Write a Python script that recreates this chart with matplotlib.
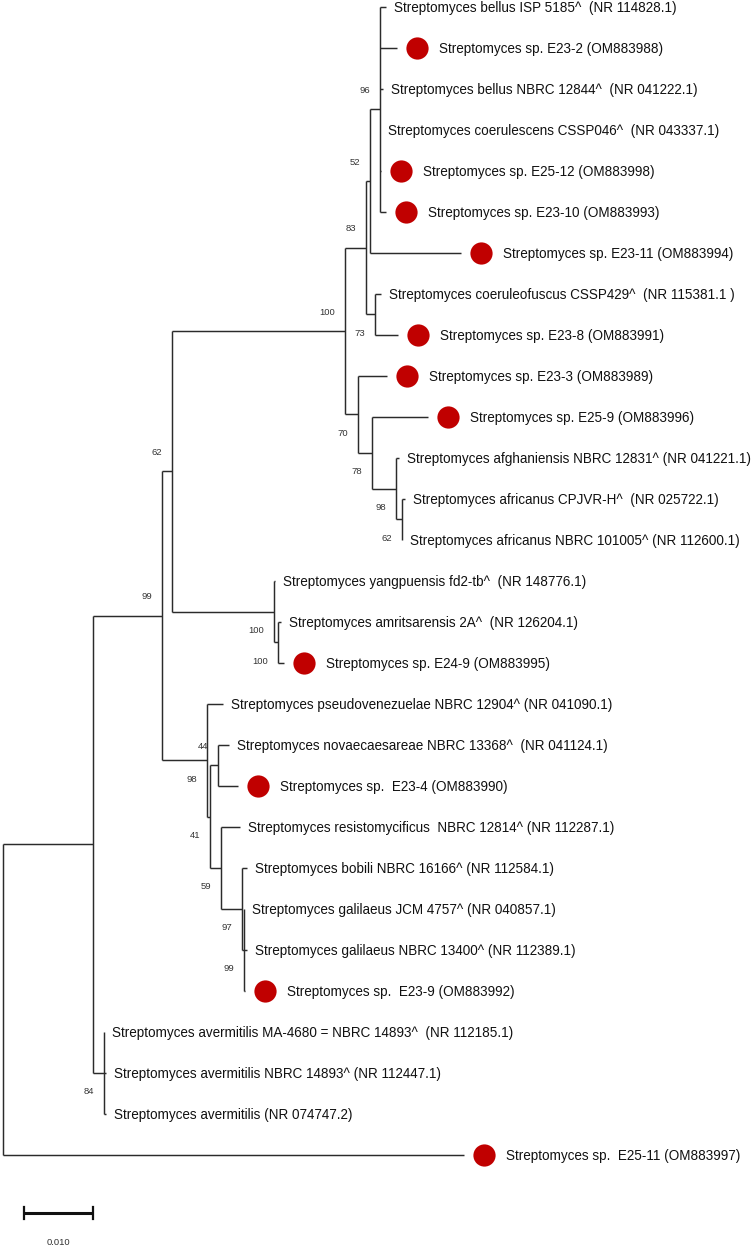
import matplotlib
matplotlib.use("Agg")
import matplotlib.pyplot as plt
from matplotlib.transforms import offset_copy

plt.rcParams["font.family"] = ["Liberation Sans", "DejaVu Sans"]

# leaves, top to bottom
taxa = [
    "Streptomyces bellus ISP 5185^  (NR 114828.1)",
    "Streptomyces sp. E23-2 (OM883988)",
    "Streptomyces bellus NBRC 12844^  (NR 041222.1)",
    "Streptomyces coerulescens CSSP046^  (NR 043337.1)",
    "Streptomyces sp. E25-12 (OM883998)",
    "Streptomyces sp. E23-10 (OM883993)",
    "Streptomyces sp. E23-11 (OM883994)",
    "Streptomyces coeruleofuscus CSSP429^  (NR 115381.1 )",
    "Streptomyces sp. E23-8 (OM883991)",
    "Streptomyces sp. E23-3 (OM883989)",
    "Streptomyces sp. E25-9 (OM883996)",
    "Streptomyces afghaniensis NBRC 12831^ (NR 041221.1)",
    "Streptomyces africanus CPJVR-H^  (NR 025722.1)",
    "Streptomyces africanus NBRC 101005^ (NR 112600.1)",
    "Streptomyces yangpuensis fd2-tb^  (NR 148776.1)",
    "Streptomyces amritsarensis 2A^  (NR 126204.1)",
    "Streptomyces sp. E24-9 (OM883995)",
    "Streptomyces pseudovenezuelae NBRC 12904^ (NR 041090.1)",
    "Streptomyces novaecaesareae NBRC 13368^  (NR 041124.1)",
    "Streptomyces sp.  E23-4 (OM883990)",
    "Streptomyces resistomycificus  NBRC 12814^ (NR 112287.1)",
    "Streptomyces bobili NBRC 16166^ (NR 112584.1)",
    "Streptomyces galilaeus JCM 4757^ (NR 040857.1)",
    "Streptomyces galilaeus NBRC 13400^ (NR 112389.1)",
    "Streptomyces sp.  E23-9 (OM883992)",
    "Streptomyces avermitilis MA-4680 = NBRC 14893^  (NR 112185.1)",
    "Streptomyces avermitilis NBRC 14893^ (NR 112447.1)",
    "Streptomyces avermitilis (NR 074747.2)",
    "Streptomyces sp.  E25-11 (OM883997)",
]
isolate = [0, 1, 0, 0, 1, 1, 1, 0, 1, 1, 1, 0, 0, 0, 0, 0, 1, 0, 0, 1, 0, 0, 0, 0, 1, 0, 0, 0, 1]
leaf_parent = ["n7", "n7", "n7", "n7", "n7", "n7", "n6", "n8", "n8", "n9", "n10", "n11", "n12", "n12",
               "n13", "n14", "n14", "n15", "n17", "n17", "n18", "n19", "n20", "n20", "n20",
               "n21", "n21", "n21", "root"]
leaf_len = [0.00087, 0.00246, 0.00043, 0.0, 0.00014, 0.00087, 0.01319, 0.00087, 0.00333,
            0.0042, 0.00812, 0.00043, 0.00043, 0.0, 0.00014, 0.00043, 0.00087, 0.00232,
            0.00159, 0.0029, 0.00275, 0.00072, 0.0, 0.00043, 0.00014, 0.0, 0.00029, 0.00029,
            0.06681]

# internal nodes
node_id = ["root", "n1", "n2", "n3", "n4", "n5", "n6", "n7", "n8", "n9", "n10", "n11",
           "n12", "n13", "n14", "n15", "n16", "n17", "n18", "n19", "n20", "n21"]
node_parent = [None, "root", "n1", "n2", "n3", "n4", "n5", "n6", "n5", "n4", "n9", "n10",
               "n11", "n3", "n13", "n2", "n15", "n16", "n16", "n18", "n19", "n1"]
node_len = [0.0, 0.01304, 0.0100, 0.00145, 0.02507, 0.00304, 0.00058, 0.00145, 0.0013,
            0.00188, 0.00203, 0.00348, 0.00087, 0.01478, 0.00058, 0.00652, 0.00043,
            0.00116, 0.00159, 0.00304, 0.00029, 0.00159]
node_support = [None, None, 99, 62, 100, 83, 52, 96, 73, 70, 78, 98, 62, 100, 100, 98, 41,
                44, 59, 97, 99, 84]

scale_len = 0.010

# ---- layout ----
PX = 6900.0  # pixels per substitution unit
parent = dict(zip(node_id, node_parent))
blen = dict(zip(node_id, node_len))
children = {n: [] for n in node_id}
for n, p in zip(node_id, node_parent):
    if p is not None:
        children[p].append(n)
for i, p in enumerate(leaf_parent):
    children[p].append(i)

nx = {}
def xpos(n):
    if n not in nx:
        nx[n] = 0.0 if parent[n] is None else xpos(parent[n]) + blen[n]
    return nx[n]
for n in node_id:
    xpos(n)

ny = {}
def ypos(c):
    if isinstance(c, int):
        return float(c)
    if c not in ny:
        ys = [ypos(k) for k in children[c]]
        ny[c] = (min(ys) + max(ys)) / 2
    return ny[c]
for n in node_id:
    ypos(n)

fig = plt.figure(figsize=(7.52, 12.48), dpi=100)
ax = fig.add_axes([0, 0, 1, 1])
ax.set_xlim(-3 / PX, 749 / PX)
ax.set_ylim((1248 - 7) / 41.0, -7 / 41.0)
ax.axis("off")

lc = "#2b2b2b"
lw = 1.05

for n in node_id:
    ys = [ypos(k) for k in children[n]]
    ax.plot([nx[n], nx[n]], [min(ys), max(ys)], color=lc, lw=lw, solid_capstyle="butt")
    if parent[n] is not None:
        ax.plot([nx[parent[n]], nx[n]], [ny[n], ny[n]], color=lc, lw=lw, solid_capstyle="butt")

t_text = offset_copy(ax.transData, fig, x=8, y=-1, units="dots")
t_dot = offset_copy(ax.transData, fig, x=20, y=0, units="dots")
t_itext = offset_copy(ax.transData, fig, x=42, y=-1, units="dots")
for i, name in enumerate(taxa):
    p = leaf_parent[i]
    x = nx[p] + leaf_len[i]
    if leaf_len[i] > 0:
        ax.plot([nx[p], x], [i, i], color=lc, lw=lw, solid_capstyle="butt")
    if isolate[i]:
        ax.plot([x], [i], "o", ms=16, color="#c00000", mec="none", transform=t_dot)
        ax.text(x, i, name, transform=t_itext, va="center", ha="left", fontsize=9.75, color="#111111")
    else:
        ax.text(x, i, name, transform=t_text, va="center", ha="left", fontsize=9.75, color="#111111")

# bootstrap values
t_up = offset_copy(ax.transData, fig, x=-10, y=19, units="dots")
t_dn = offset_copy(ax.transData, fig, x=-10, y=-19, units="dots")
for n, s in zip(node_id, node_support):
    if s is None:
        continue
    sib = [ypos(k) for k in children[parent[n]]]
    tr = t_up if ny[n] == min(sib) else t_dn
    ax.text(nx[n], ny[n], str(s), transform=tr, ha="right", va="center", fontsize=6.8, color="#333333")

# scale bar
sb_x0 = 0.003
sb_y = (1213 - 7) / 41.0
ax.plot([sb_x0, sb_x0 + scale_len], [sb_y, sb_y], color="#111111", lw=2.2, solid_capstyle="butt")
for xe in (sb_x0, sb_x0 + scale_len):
    ax.plot([xe, xe], [sb_y - 0.14, sb_y + 0.14], color="#111111", lw=1.6)
ax.text(sb_x0 + scale_len / 2, (1243 - 7) / 41.0, "%.3f" % scale_len, ha="center", va="center",
        fontsize=6.8, color="#333333")

fig.savefig("out.png", dpi=100)
